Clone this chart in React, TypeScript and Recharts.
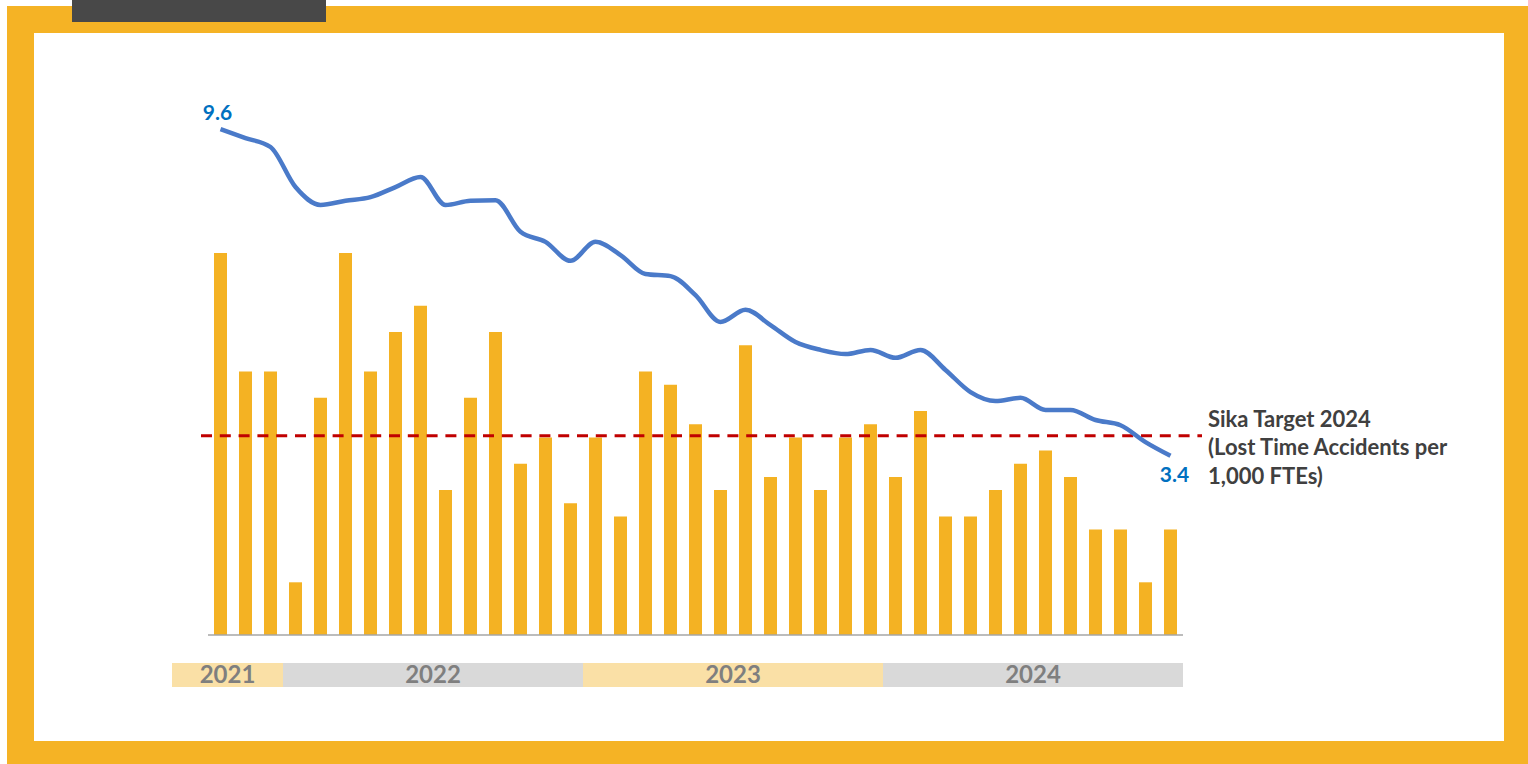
import { ComposedChart, Bar, Line, XAxis, YAxis, ReferenceLine } from "recharts"

// Months shown per year (first month of each year in the window)
const YEARS = ["2021", "2022", "2023", "2024"]
const YEAR_FIRST_MONTH = [10, 1, 1, 1]
const MONTH_NAMES = ["Jan", "Feb", "Mar", "Apr", "May", "Jun", "Jul", "Aug", "Sep", "Oct", "Nov", "Dec"]

// Monthly lost time accidents (bars)
const ACCIDENTS = [
  29, 20, 20,
  4, 18, 29, 20, 23, 25, 11, 18, 23, 13, 15, 10,
  15, 9, 20, 19, 16, 11, 22, 12, 15, 11, 15, 16,
  12, 17, 9, 9, 11, 13, 14, 12, 8, 8, 4, 8,
]

// Rolling LTA rate per 1,000 FTEs (line)
const LTA_RATE = [
  9.6, 9.43, 9.26,
  8.5, 8.16, 8.24, 8.31, 8.5, 8.69, 8.16, 8.24, 8.25, 7.65, 7.46, 7.1,
  7.46, 7.21, 6.85, 6.81, 6.45, 5.94, 6.17, 5.88, 5.56, 5.41, 5.33, 5.41,
  5.26, 5.41, 5.03, 4.61, 4.44, 4.5, 4.27, 4.27, 4.08, 3.98, 3.66, 3.4,
]

const TARGET_2024 = 3.78

const YEAR_BAND_COLORS = ["#FAE0A6", "#D9D9D9"]

const W = 1528
const H = 764
const PLOT_LEFT = 208
const PLOT_RIGHT = 1183
const STEP = (PLOT_RIGHT - PLOT_LEFT) / ACCIDENTS.length
const FONT = "Lato, 'Open Sans', sans-serif"

const data: { month: string; year: string; yearIdx: number; first: boolean; count: number; accidents: number; rate: number }[] = []
YEARS.forEach((year, yi) => {
  const start = YEAR_FIRST_MONTH[yi]
  for (let m = start; m <= 12; m++) {
    const i = data.length
    data.push({
      month: `${MONTH_NAMES[m - 1]}-${year.slice(2)}`,
      year,
      yearIdx: yi,
      first: m === start,
      count: 13 - start,
      accidents: ACCIDENTS[i],
      rate: LTA_RATE[i],
    })
  }
})

function YearTick(props: any) {
  const { x, y, index } = props
  const row = data[index]
  if (!row || !row.first) return null
  // the first year band sticks out a bit to the left of the axis
  const extra = row.yearIdx === 0 ? 36 : 0
  const left = x - STEP / 2 - extra
  const width = row.count * STEP + extra
  return (
    <g>
      <rect x={left} y={y} width={width} height={24} fill={YEAR_BAND_COLORS[row.yearIdx % 2]} />
      <text
        x={left + width / 2}
        y={y + 20}
        textAnchor="middle"
        fontFamily={FONT}
        fontWeight={700}
        fontSize={24}
        fill="#7F7F7F"
      >
        {row.year}
      </text>
    </g>
  )
}

function RateLabel(props: any) {
  const { x, y, index, value } = props
  const style = { fontFamily: FONT, fontWeight: 700, fontSize: 21, fill: "#0070C0" }
  if (index === 0) {
    return <text x={x - 3} y={y - 9} textAnchor="middle" {...style}>{value}</text>
  }
  if (index === data.length - 1) {
    return <text x={x + 4} y={y + 26} textAnchor="middle" {...style}>{value}</text>
  }
  return null
}

function TargetLine(props: any) {
  const { x1, y1, x2, y2 } = props
  const lines = ["Sika Target 2024", "(Lost Time Accidents per", "1,000 FTEs)"]
  return (
    <g>
      <line x1={x1 - 7} y1={y1} x2={x2 + 19} y2={y2} stroke="#C00000" strokeWidth={3} strokeDasharray="11 7.8" />
      {lines.map((t, i) => (
        <text
          key={t}
          x={x2 + 25}
          y={y2 - 9 + i * 28.5}
          fontFamily={FONT}
          fontWeight={700}
          fontSize={22}
          fill="#404040"
        >
          {t}
        </text>
      ))}
    </g>
  )
}

export default function App() {
  return (
    <div style={{ position: "absolute", left: 0, top: 0, width: W, height: H, background: "#FFFFFF", overflow: "hidden" }}>
      {/* orange frame */}
      <div style={{ position: "absolute", left: 7, top: 6, width: W - 7, height: H - 6, background: "#F5B325" }} />
      <div style={{ position: "absolute", left: 34, top: 33, width: 1504 - 34, height: 741 - 33, background: "#FFFFFF" }} />
      <div style={{ position: "absolute", left: 72, top: 0, width: 254, height: 22, background: "#484848" }} />
      <div style={{ position: "absolute", left: 0, top: 0 }}>
        <ComposedChart
          width={W}
          height={H}
          data={data}
          margin={{ top: 108, right: W - PLOT_RIGHT, left: PLOT_LEFT, bottom: 77 }}
        >
          <XAxis
            dataKey="month"
            xAxisId="main"
            height={28}
            tick={false}
            tickLine={false}
            axisLine={{ stroke: "#A6A6A6", strokeWidth: 1.5 }}
          />
          <XAxis
            dataKey="month"
            xAxisId="year"
            height={24}
            interval={0}
            tickSize={0}
            tickMargin={0}
            tickLine={false}
            axisLine={false}
            tick={<YearTick />}
          />
          <YAxis yAxisId="count" domain={[0, 40]} hide />
          <YAxis yAxisId="rate" domain={[0, 10]} hide />
          <Bar
            xAxisId="main"
            yAxisId="count"
            dataKey="accidents"
            fill="#F4B223"
            barSize={13}
            isAnimationActive={false}
          />
          <ReferenceLine
            xAxisId="main"
            yAxisId="rate"
            y={TARGET_2024}
            ifOverflow="visible"
            shape={(p: any) => <TargetLine {...p} />}
          />
          <Line
            xAxisId="main"
            yAxisId="rate"
            type="monotone"
            dataKey="rate"
            stroke="#4A7AC9"
            strokeWidth={4.5}
            dot={false}
            activeDot={false}
            label={<RateLabel />}
            isAnimationActive={false}
          />
        </ComposedChart>
      </div>
    </div>
  )
}
